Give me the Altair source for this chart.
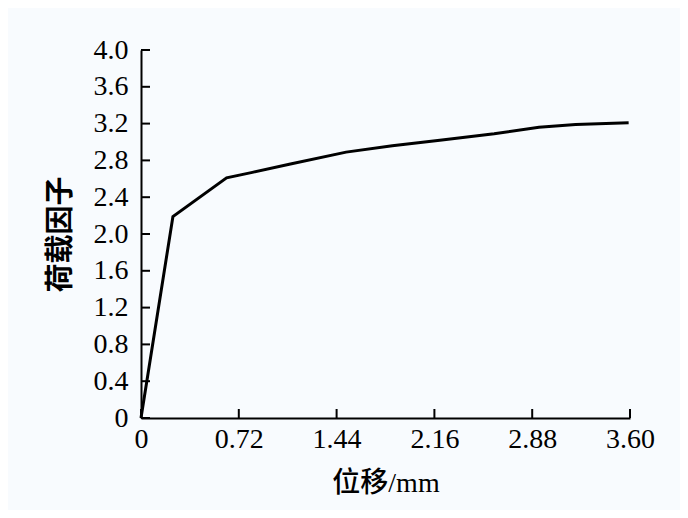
import altair as alt
import pandas as pd

# Curve
disp = [0.0, 0.235, 0.63, 0.82, 1.1, 1.51, 1.85, 2.2, 2.6, 2.93, 3.2, 3.59]
load = [0.0, 2.19, 2.61, 2.67, 2.76, 2.89, 2.96, 3.02, 3.09, 3.16, 3.19, 3.21]

x_ticks = [0, 0.72, 1.44, 2.16, 2.88, 3.60]
y_ticks = [0, 0.4, 0.8, 1.2, 1.6, 2.0, 2.4, 2.8, 3.2, 3.6, 4.0]

W, H = 489, 368
df = pd.DataFrame({"x": disp, "y": load})
dfx = pd.DataFrame({"x": x_ticks})
dfy = pd.DataFrame({"y": y_ticks})

xs = alt.Scale(domain=[0, 3.6], nice=False, zero=False)
ys = alt.Scale(domain=[0, 4.0], nice=False, zero=False)

font_num = "Liberation Serif"
font_title = "Liberation Serif, Noto Sans CJK SC"

x_axis = alt.Axis(
    values=x_ticks, ticks=False, grid=False,
    labelExpr="datum.value == 0 ? '0' : format(datum.value, '.2f')",
    labelFont=font_num, labelFontSize=28, labelColor="black", labelPadding=7,
    domainColor="black", domainWidth=2, labelFlush=False, labelOverlap=False,
    title="位移/mm", titleFont=font_title, titleFontSize=28, titleFontWeight=500,
    titleColor="black", titleBaseline="middle", titleX=W / 2, titleY=65)
y_axis = alt.Axis(
    values=y_ticks, ticks=False, grid=False,
    labelExpr="datum.value == 0 ? '0' : format(datum.value, '.1f')",
    labelFont=font_num, labelFontSize=28, labelColor="black", labelPadding=13,
    domainColor="black", domainWidth=2, labelFlush=False, labelOverlap=False,
    title="荷载因子", titleFont=font_title, titleFontSize=29, titleFontWeight="bold",
    titleColor="black", titleBaseline="middle", titleAngle=-90,
    titleX=-81, titleY=H / 2)

line = alt.Chart(df).mark_line(color="black", strokeWidth=3).encode(
    x=alt.X("x:Q", scale=xs, axis=x_axis, title="位移/mm"),
    y=alt.Y("y:Q", scale=ys, axis=y_axis, title="荷载因子"),
)

xt = alt.Chart(dfx).mark_rule(color="black", strokeWidth=2).encode(
    x=alt.X("x:Q", scale=xs, axis=x_axis, title="位移/mm"),
    y=alt.value(H), y2=alt.value(H - 9),
)
yt = alt.Chart(dfy).mark_rule(color="black", strokeWidth=2).encode(
    y=alt.Y("y:Q", scale=ys, axis=y_axis, title="荷载因子"),
    x=alt.value(0), x2=alt.value(9),
)

chart = alt.layer(line, xt, yt).properties(
    width=W, height=H,
    autosize=alt.AutoSizeParams(type="none"),
    padding={"left": 133, "top": 42, "right": 50, "bottom": 92},
    background="#f8fbfe",
).configure_view(stroke=None)

chart.save("out.html", embed_options={"renderer": "svg", "actions": False})
